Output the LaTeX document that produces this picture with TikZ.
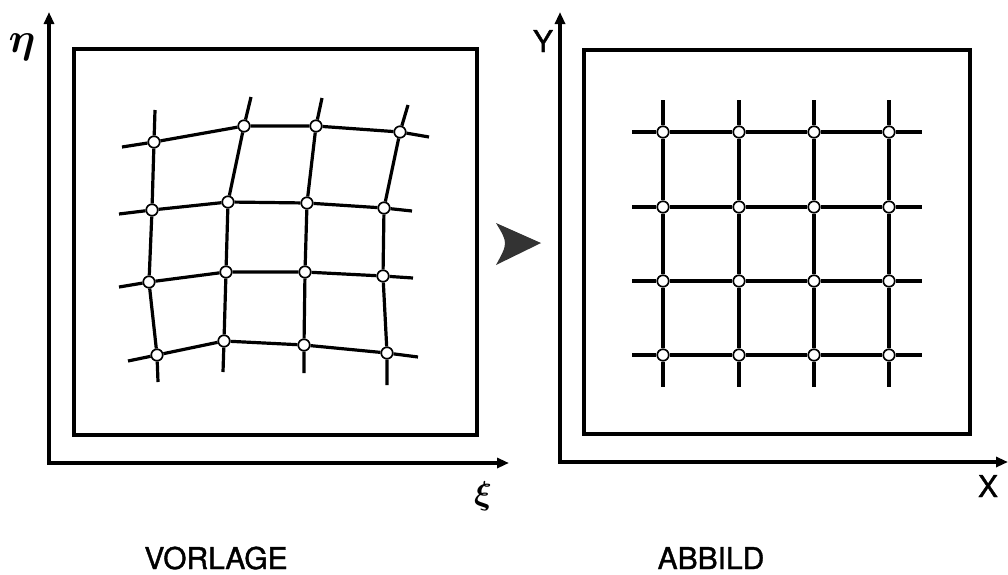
\documentclass[tikz,border=0pt]{standalone}
\usepackage{amsmath}
\usepackage{fontspec}
\newfontfamily\labfont[FakeBold=1.2]{TeX Gyre Heros}
\usetikzlibrary{arrows.meta}
\begin{document}
\begin{tikzpicture}[x=1pt,y=-1pt,
 gridline/.style={line width=3.2pt},
 frame/.style={line width=3.4pt},
 axis/.style={line width=3.6pt,{Triangle[length=12pt,width=10pt]}-{Triangle[length=12pt,width=10pt]}},
 knot/.style={circle,draw,fill=white,line width=1.7pt,minimum size=11.5pt,inner sep=0pt},
 lbl/.style={font=\labfont\fontsize{30}{30}\selectfont,inner sep=0pt}]
\useasboundingbox (0,0) rectangle (1008,574);
\fill[white] (0,0) rectangle (1008,574);

% ---------- left panel ----------
\coordinate (LO) at (49,463);
\coordinate (LYtip) at (49,12);
\coordinate (LXtip) at (509,463);
\draw[axis] (LYtip) -- (LO) -- (LXtip);
\draw[frame] (74,49) rectangle (477,435);
\node[inner sep=0pt,scale=4.2] (eta) at (22,47) {$\boldsymbol{\eta}$};
\node[inner sep=0pt,scale=3.3] (xi) at (483,496) {$\boldsymbol{\xi}$};

\node[knot] (L11) at (154,142) {};
\node[knot] (L12) at (244,126) {};
\node[knot] (L13) at (316,126) {};
\node[knot] (L14) at (400,132) {};
\node[knot] (L21) at (152,210) {};
\node[knot] (L22) at (228,202) {};
\node[knot] (L23) at (307,203) {};
\node[knot] (L24) at (384,208) {};
\node[knot] (L31) at (149,282) {};
\node[knot] (L32) at (226,272) {};
\node[knot] (L33) at (305,272) {};
\node[knot] (L34) at (383,276) {};
\node[knot] (L41) at (157,355) {};
\node[knot] (L42) at (224,341) {};
\node[knot] (L43) at (304,345) {};
\node[knot] (L44) at (387,353) {};
% stub ends
\coordinate (Ll1) at (122,147); \coordinate (Lr1) at (429,137);
\coordinate (Ll2) at (119,214); \coordinate (Lr2) at (412,211);
\coordinate (Ll3) at (119,287); \coordinate (Lr3) at (413,278);
\coordinate (Ll4) at (128,361); \coordinate (Lr4) at (418,357);
\coordinate (Lt1) at (155,110); \coordinate (Lb1) at (158,382);
\coordinate (Lt2) at (251,97);  \coordinate (Lb2) at (223,372);
\coordinate (Lt3) at (322,98);  \coordinate (Lb3) at (304,373);
\coordinate (Lt4) at (408,105); \coordinate (Lb4) at (387,385);
\foreach \r in {1,2,3,4}{
  \draw[gridline] (Ll\r) -- (L\r1) -- (L\r2) -- (L\r3) -- (L\r4) -- (Lr\r);
  \draw[gridline] (Lt\r) -- (L1\r) -- (L2\r) -- (L3\r) -- (L4\r) -- (Lb\r);
}

% ---------- transformation arrow ----------
\fill[black!80] (541,243) -- (496,223) .. controls (508,243) .. (496,265) -- cycle;

% ---------- right panel ----------
\coordinate (RO) at (560,462);
\coordinate (RYtip) at (560,12);
\coordinate (RXtip) at (1008,462);
\draw[axis] (RYtip) -- (RO) -- (RXtip);
\draw[frame] (584,50) rectangle (970,434);
\node[lbl,anchor=base] (Ylab) at (543,52) {Y};
\node[lbl,anchor=base] (Xlab) at (988,497) {X};

\foreach \c/\x in {1/663,2/739,3/814,4/889}{
  \foreach \r/\y in {1/132,2/207,3/281,4/355}{
    \node[knot] (R\r\c) at (\x,\y) {};
  }
  \coordinate (Rt\c) at (\x,100);
  \coordinate (Rb\c) at (\x,387);
}
\foreach \r/\y in {1/132,2/207,3/281,4/355}{
  \coordinate (Rl\r) at (632,\y);
  \coordinate (Rr\r) at (922,\y);
}
\foreach \r in {1,2,3,4}{
  \draw[gridline] (Rl\r) -- (R\r1) -- (R\r2) -- (R\r3) -- (R\r4) -- (Rr\r);
  \draw[gridline] (Rt\r) -- (R1\r) -- (R2\r) -- (R3\r) -- (R4\r) -- (Rb\r);
}

% ---------- captions ----------
\node[lbl,anchor=base] (vorlage) at (216,569) {VORLAGE};
\node[lbl,anchor=base] (abbild) at (711,569) {ABBILD};
\end{tikzpicture}
\end{document}
